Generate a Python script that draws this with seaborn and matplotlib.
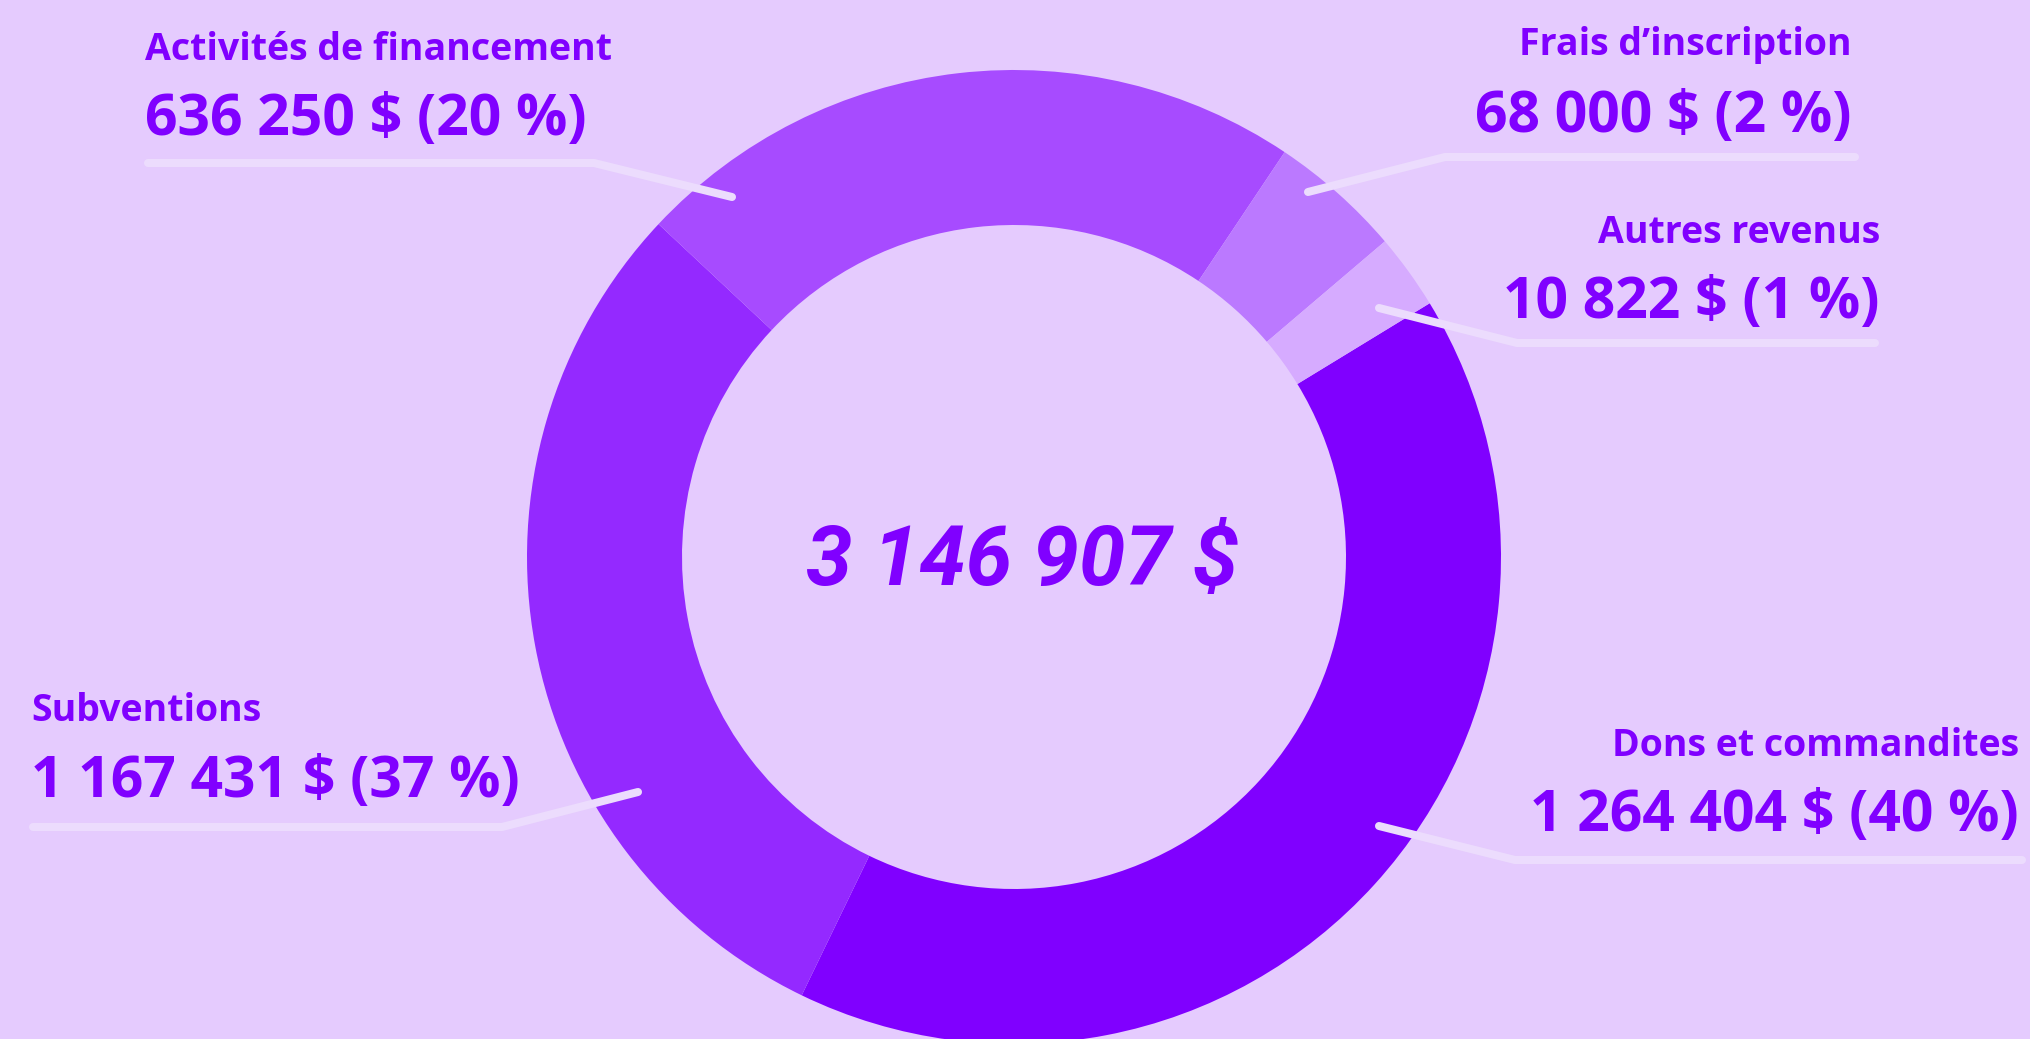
import numpy as np
import pandas as pd
import seaborn as sns
import matplotlib.pyplot as plt

# Données
categories = [
    "Dons et commandites",
    "Subventions",
    "Activités de financement",
    "Frais d’inscription",
    "Autres revenus",
]
amounts = [1264404, 1167431, 636250, 68000, 10822]
pct_labels = [40, 37, 20, 2, 1]
# taille des arcs telle que dessinée dans le visuel (pas proportionnelle aux montants)
arc_share = [40.9, 29.8, 22.4, 4.4, 2.5]
colors = ["#8000ff", "#9429ff", "#a74bff", "#bb79ff", "#d6abff"]

bg = "#e5cbfe"
line_col = "#ecdcfd"
text_col = "#8000ff"

W, H = 2030, 1039

sns.set_theme(style="white", rc={"figure.facecolor": bg, "axes.facecolor": bg})
plt.rcParams["font.family"] = ["Open Sans", "DejaVu Sans"]


def fr(n):
    return f"{n:,}".replace(",", " ")


df = pd.DataFrame({"cat": categories, "amount": amounts, "pct": pct_labels, "arc": arc_share})

fig = plt.figure(figsize=(W / 100, H / 100), dpi=100)
ax = fig.add_axes([0, 0, 1, 1])

cx, cy = 1014, H - 557
ax.pie(
    df["arc"],
    colors=colors,
    startangle=31.4,
    counterclock=False,
    radius=487,
    center=(cx, cy),
    wedgeprops=dict(width=155, linewidth=0),
)
ax.set_xlim(0, W)
ax.set_ylim(0, H)
ax.set_aspect("equal")
ax.axis("off")

# mise en page des étiquettes (pixels, origine en haut à gauche)
layout = {
    "Dons et commandites": ("right", 2019, 756, 831, [(2022, 860), (1515, 860), (1379, 826)]),
    "Subventions": ("left", 31, 721, 797, [(33, 827), (502, 827), (638, 792)]),
    "Activités de financement": ("left", 145, 60, 135, [(148, 163), (594, 163), (732, 197)]),
    "Frais d’inscription": ("right", 1852, 55, 132, [(1855, 157), (1445, 157), (1308, 192)]),
    "Autres revenus": ("right", 1880, 243, 318, [(1875, 343), (1517, 343), (1379, 308)]),
}

for _, row in df.iterrows():
    ha, x, yt, yv, pts = layout[row["cat"]]
    ax.text(x, H - yt, row["cat"], ha=ha, va="baseline", fontsize=27,
            fontweight="bold", color=text_col)
    ax.text(x, H - yv, f"{fr(row['amount'])} $ ({row['pct']} %)", ha=ha, va="baseline",
            fontsize=41, fontweight="bold", color=text_col)
    xs = [p[0] for p in pts]
    ys = [H - p[1] for p in pts]
    ax.plot(xs, ys, color=line_col, lw=5.8, solid_capstyle="round",
            solid_joinstyle="round", zorder=5)

ax.text(1022, H - 562, f"{fr(sum(amounts))} $", ha="center", va="center",
        fontsize=60, fontweight="bold", fontstyle="italic", color=text_col,
        family=["Roboto", "DejaVu Sans"])

fig.savefig("out.png", dpi=100, facecolor=bg)
